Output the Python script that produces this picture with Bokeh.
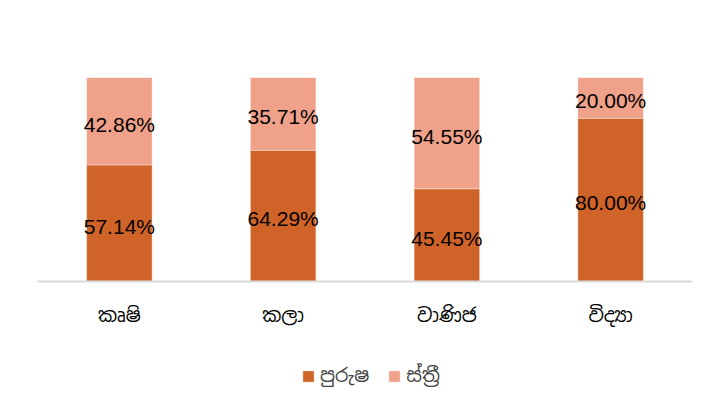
from bokeh.plotting import figure
from bokeh.models import ColumnDataSource, Range1d, Legend, LegendItem
from bokeh.core.properties import value
from bokeh.embed import file_html
from bokeh.resources import INLINE

categories = ["කෘෂි", "කලා", "වාණිජ", "විද්‍යා"]
male = [0.5714, 0.6429, 0.4545, 0.80]
female = [0.4286, 0.3571, 0.5455, 0.20]
series_names = ["පුරුෂ", "ස්ත්‍රී"]
colors = ["#D06328", "#F0A18A"]

SIN = "Noto Sans Sinhala, Noto Serif Sinhala, Iskoola Pota, Noto Sans, sans-serif"
NUM = "Liberation Sans"

src = ColumnDataSource(dict(
    cat=categories, male=male, female=female,
    male_y=[m / 2 for m in male],
    female_y=[m + f / 2 for m, f in zip(male, female)],
    male_lab=["%.2f%%" % (m * 100) for m in male],
    female_lab=["%.2f%%" % (f * 100) for f in female],
))

# frame extends below the bars so that category labels and legend sit inside it
p = figure(x_range=categories, y_range=Range1d(-0.588, 1),
           frame_width=655, frame_height=324,
           output_backend="svg", toolbar_location=None,
           min_border_left=37, min_border_right=19, min_border_top=77, min_border_bottom=0)
p.outline_line_color = None
p.grid.visible = False
p.yaxis.visible = False

r = p.vbar_stack(["male", "female"], x="cat", width=0.4, source=src, color=colors,
                 line_color="white", line_alpha=0.35, line_width=1)

p.text(x="cat", y="male_y", text="male_lab", source=src, text_align="center",
       text_baseline="middle", text_font=value(NUM), text_font_size="21px",
       text_color="black", y_offset=3)
p.text(x="cat", y="female_y", text="female_lab", source=src, text_align="center",
       text_baseline="middle", text_font=value(NUM), text_font_size="21px",
       text_color="black", y_offset=3)

ax = p.xaxis[0]
ax.fixed_location = 0
ax.axis_line_color = "#D9D9D9"
ax.axis_line_width = 2
ax.major_tick_line_color = None
ax.minor_tick_line_color = None
ax.major_label_text_font = SIN
ax.major_label_text_font_size = "19px"
ax.major_label_text_color = "black"
ax.major_label_standoff = 15

legend = Legend(items=[LegendItem(label=series_names[0], renderers=[r[0]]),
                       LegendItem(label=series_names[1], renderers=[r[1]])],
                orientation="horizontal", location=(264, 13),
                label_text_font=SIN, label_text_font_size="19px",
                glyph_width=14, glyph_height=14, label_standoff=5, spacing=18,
                border_line_color=None, background_fill_alpha=0, margin=0, padding=0)
p.add_layout(legend, "center")

open("out.html", "w").write(file_html(p, INLINE))
